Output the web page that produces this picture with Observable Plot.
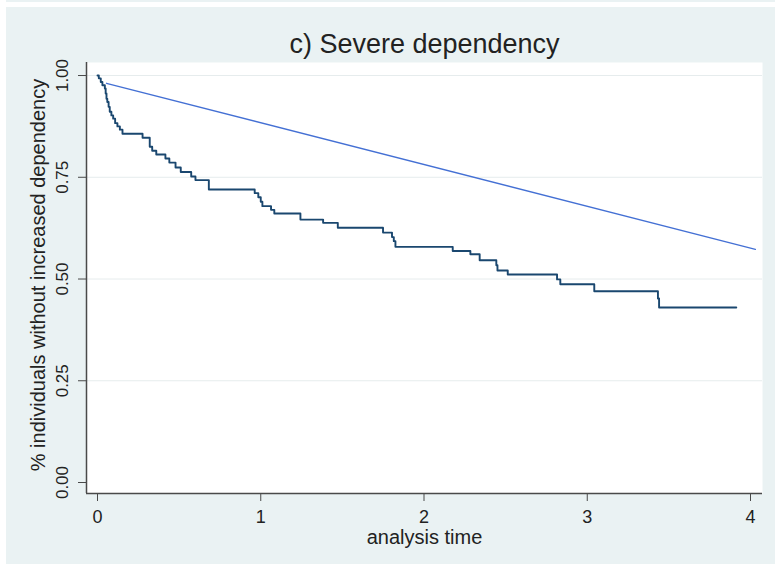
<!DOCTYPE html>
<html>
<head>
<meta charset="utf-8">
<script src="https://cdn.jsdelivr.net/npm/d3@7"></script>
<script src="https://cdn.jsdelivr.net/npm/@observablehq/plot@0.6"></script>
<style>
  html, body { margin: 0; padding: 0; background: #ffffff; }
  #page { position: relative; width: 775px; height: 564px; overflow: hidden; }
  #bg { position: absolute; left: 6px; top: 7px; width: 769px; height: 557px; background: #eaf2f3; }
  #strip { position: absolute; left: 6px; top: 0px; width: 769px; height: 2px; background: #eaf2f3; }
  #chart { position: absolute; left: 0; top: 0; }
</style>
</head>
<body>
<div id="page"><div id="strip"></div><div id="bg"></div><div id="chart"></div></div>
<script>
// Kaplan-Meier estimate (time at which survival steps to new value)
const kmTime = [0, 0.008, 0.02, 0.03, 0.045, 0.05, 0.055, 0.06, 0.068, 0.075, 0.085, 0.096, 0.108, 0.122, 0.137, 0.153,
  0.276, 0.32, 0.335, 0.36, 0.416, 0.44, 0.478, 0.51, 0.574, 0.60, 0.682,
  0.963, 0.985, 1.0, 1.01, 1.063, 1.083, 1.243, 1.382, 1.472, 1.749, 1.804, 1.815, 1.825,
  2.176, 2.284, 2.341, 2.443, 2.45, 2.513, 2.815, 2.835, 3.043, 3.433, 3.44, 3.913];
const kmSurv = [1.0, 0.993, 0.984, 0.976, 0.968, 0.956, 0.943, 0.935, 0.923, 0.911, 0.902, 0.894, 0.883, 0.875, 0.867, 0.857,
  0.847, 0.825, 0.815, 0.806, 0.796, 0.786, 0.774, 0.763, 0.752, 0.743, 0.72,
  0.711, 0.701, 0.69, 0.679, 0.670, 0.661, 0.646, 0.638, 0.626, 0.614, 0.603, 0.593, 0.579,
  0.569, 0.561, 0.546, 0.534, 0.521, 0.511, 0.499, 0.487, 0.470, 0.452, 0.43, 0.43];
// fitted (predicted) survival line
const fitTime = [0.055, 4.03];
const fitSurv = [0.981, 0.573];

const xTicks = [0, 1, 2, 3, 4];
const yTicks = [0, 0.25, 0.5, 0.75, 1];
const yGrid = [0.25, 0.5, 0.75, 1];
const titleText = "c) Severe dependency";
const xTitle = "analysis time";
const yTitle = "% individuals without increased dependency";

const km = kmTime.map((t, i) => ({t, s: kmSurv[i]}));
const fit = fitTime.map((t, i) => ({t, s: fitSurv[i]}));

const xDom = [-0.0674, 4.0735];
const yDom = [-0.027, 1.032];
const font = "'Liberation Sans', Arial, sans-serif";

const chart = Plot.plot({
  width: 775,
  height: 564,
  marginLeft: 86,
  marginRight: 13,
  marginTop: 62,
  marginBottom: 71,
  style: {background: "transparent", fontFamily: font, color: "#333"},
  x: {domain: xDom, axis: null},
  y: {domain: yDom, axis: null},
  marks: [
    Plot.frame({fill: "white", stroke: "none"}),
    Plot.ruleY(yGrid, {stroke: "#e6eced", strokeWidth: 1}),
    Plot.axisX({ticks: xTicks, tickSize: 8, tickPadding: 9, tickFormat: "d", fontSize: 18, stroke: "#4a4a4a", fill: "#222", label: null}),
    Plot.axisY({ticks: yTicks, tickSize: 8, tickFormat: () => "", stroke: "#4a4a4a", label: null}),
    Plot.text(yTicks, {y: d => d, text: d => d.toFixed(2), frameAnchor: "left", textAnchor: "middle", lineAnchor: "middle", dx: -24, rotate: -90, fontSize: 17, fill: "#222"}),
    Plot.ruleX([xDom[0]], {stroke: "#4a4a4a", strokeWidth: 1.5}),
    Plot.ruleY([yDom[0]], {stroke: "#4a4a4a", strokeWidth: 1.5}),
    Plot.line(fit, {x: "t", y: "s", stroke: "#4470d4", strokeWidth: 1.3}),
    Plot.line(km, {x: "t", y: "s", curve: "step-after", stroke: "#1a476f", strokeWidth: 1.9}),
    Plot.text([yTitle], {frameAnchor: "left", textAnchor: "middle", lineAnchor: "middle", dx: -48, dy: -3, rotate: -90, fontSize: 20, fill: "#222"}),
    Plot.text([xTitle], {frameAnchor: "bottom", textAnchor: "middle", lineAnchor: "middle", dy: 44, fontSize: 20, fill: "#222"}),
    Plot.text([titleText], {frameAnchor: "top", textAnchor: "middle", lineAnchor: "middle", dy: -18, fontSize: 27, fill: "#222"})
  ]
});
document.getElementById("chart").appendChild(chart);
</script>
</body>
</html>
